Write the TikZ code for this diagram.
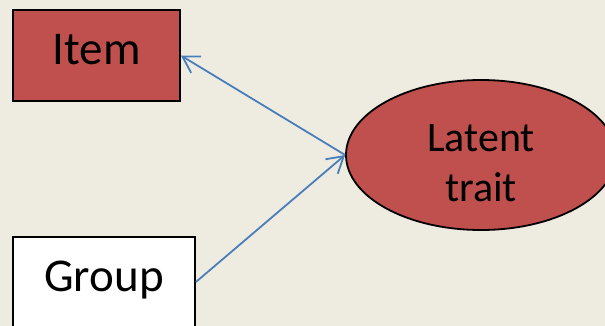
\documentclass[tikz,border=0pt]{standalone}
\usepackage{fontspec}
\setmainfont{Carlito}
\usetikzlibrary{shapes.geometric,arrows.meta}
\definecolor{bgc}{HTML}{EEECE1}
\definecolor{redf}{HTML}{C0504D}
\definecolor{arrc}{HTML}{4A7EBB}
\tikzset{
  boxnode/.style={draw=black, line width=1.8pt, rectangle, inner sep=0pt,
    font=\fontsize{47}{56}\selectfont, text height=31pt, text depth=12pt},
  ovalnode/.style={draw=black, line width=1.8pt, ellipse, inner sep=0pt, fill=redf},
  lbl/.style={font=\fontsize{42}{50}\selectfont, align=center, inner sep=0pt},
  arr/.style={draw=arrc, line width=1.8pt, -{Straight Barb[length=16pt,width=19pt,line width=1.8pt]}}
}
\begin{document}
\begin{tikzpicture}[x=1pt,y=-1pt]
\useasboundingbox (0,0) rectangle (605,326);
\clip (0,0) rectangle (605,326);
\fill[bgc] (0,0) rectangle (605,326);
\node[boxnode, fill=redf, minimum width=167pt, minimum height=91pt] (item) at (96.5,55.5) {Item};
\node[boxnode, fill=white, minimum width=182pt, minimum height=90pt] (group) at (104,282) {Group};
\node[ovalnode, minimum width=270pt, minimum height=150pt] (lt) at (481,155) {};
\node[lbl] (ltxt) at (481,163.5) {Latent\\trait};
\draw[arr] (lt.west) -- (item.east);
\draw[arr] (group.east) -- (lt.west);
\end{tikzpicture}
\end{document}
